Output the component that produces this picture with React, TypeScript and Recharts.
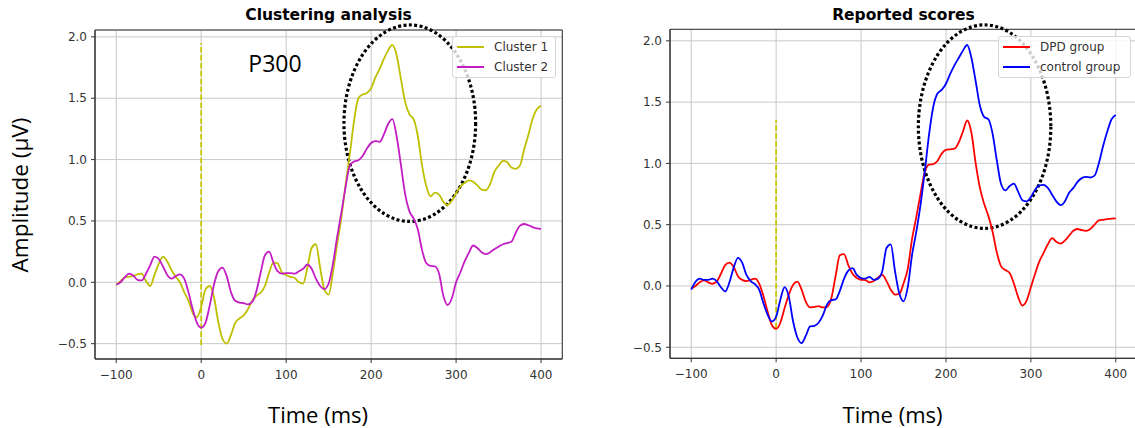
import { LineChart, Line, XAxis, YAxis, CartesianGrid, ReferenceLine, ReferenceArea, Legend } from 'recharts';

// time axis (ms), one sample every 5 ms
const times = [
  -100, -95, -90, -85, -80, -75, -70, -65, -60, -55,
  -50, -45, -40, -35, -30, -25, -20, -15, -10, -5,
  0, 5, 10, 15, 20, 25, 30, 35, 40, 45,
  50, 55, 60, 65, 70, 75, 80, 85, 90, 95,
  100, 105, 110, 115, 120, 125, 130, 135, 140, 145,
  150, 155, 160, 165, 170, 175, 180, 185, 190, 195,
  200, 205, 210, 215, 220, 225, 230, 235, 240, 245,
  250, 255, 260, 265, 270, 275, 280, 285, 290, 295,
  300, 305, 310, 315, 320, 325, 330, 335, 340, 345,
  350, 355, 360, 365, 370, 375, 380, 385, 390, 395,
  400,
];

const cluster1 = [
  -0.02, 0.01, 0.04, 0.045, 0.05, 0.065, 0.07, 0.01, -0.03, 0.06,
  0.15, 0.21, 0.17, 0.1, 0.045, 0.0, -0.08, -0.15, -0.25, -0.285,
  -0.2, -0.06, -0.03, -0.12, -0.32, -0.46, -0.5, -0.43, -0.33, -0.295,
  -0.27, -0.22, -0.15, -0.11, -0.085, -0.03, 0.08, 0.16, 0.155, 0.08,
  0.06, 0.045, 0.035, 0.0, -0.01, 0.12, 0.28, 0.31, 0.12, -0.06,
  -0.1, 0.08, 0.31, 0.53, 0.8, 1.05, 1.32, 1.5, 1.53, 1.543,
  1.58, 1.67, 1.74, 1.82, 1.89, 1.934, 1.85, 1.66, 1.47, 1.37,
  1.33, 1.19, 0.95, 0.78, 0.7, 0.73, 0.715, 0.655, 0.63, 0.665,
  0.725, 0.78, 0.81, 0.83, 0.82, 0.79, 0.756, 0.75, 0.8, 0.9,
  0.95, 0.99, 0.98, 0.935, 0.925, 0.95, 1.08, 1.2, 1.33, 1.41,
  1.437,
];

const cluster2 = [
  -0.02, 0.0, 0.04, 0.07, 0.055, 0.02, 0.015, 0.07, 0.14, 0.21,
  0.19, 0.13, 0.06, 0.03, 0.05, 0.065, 0.03, -0.08, -0.22, -0.33,
  -0.37, -0.33, -0.19, -0.02, 0.09, 0.12, 0.05, -0.08, -0.15, -0.165,
  -0.17, -0.18, -0.16, -0.07, 0.08, 0.22, 0.25, 0.16, 0.09, 0.07,
  0.075, 0.075, 0.07, 0.09, 0.11, 0.145, 0.11, 0.03, -0.03, -0.055,
  -0.01, 0.15, 0.37, 0.57, 0.78, 0.95, 0.985, 0.995, 1.03, 1.09,
  1.135, 1.15, 1.145, 1.205, 1.29, 1.33, 1.19, 0.96, 0.72, 0.58,
  0.52, 0.43, 0.26, 0.155, 0.133, 0.13, 0.07, -0.11, -0.185, -0.13,
  0.0, 0.08, 0.17, 0.24, 0.3, 0.28, 0.245, 0.23, 0.245, 0.27,
  0.29, 0.31, 0.32, 0.33, 0.4, 0.46, 0.475, 0.465, 0.45, 0.44,
  0.435,
];

const dpdGroup = [
  -0.02, 0.0, 0.03, 0.045, 0.03, 0.018, 0.035, 0.1, 0.17, 0.19,
  0.155, 0.08, 0.05, 0.04, 0.05, 0.06, 0.02, -0.08, -0.21, -0.32,
  -0.35, -0.3, -0.18, -0.07, 0.01, 0.035, -0.03, -0.13, -0.175, -0.17,
  -0.165, -0.175, -0.17, -0.1, 0.08, 0.25, 0.26, 0.17, 0.1, 0.065,
  0.05, 0.048, 0.03, 0.04, 0.07, 0.09, 0.04, -0.03, -0.07, -0.065,
  0.02, 0.14, 0.38, 0.56, 0.75, 0.93, 0.99, 0.995, 1.02, 1.08,
  1.11, 1.115, 1.12, 1.17, 1.26, 1.35, 1.25, 1.0, 0.8, 0.67,
  0.57, 0.44, 0.27, 0.16, 0.13, 0.105, 0.02, -0.09, -0.16, -0.12,
  -0.01, 0.1, 0.2, 0.27, 0.34, 0.39, 0.36, 0.345, 0.37, 0.41,
  0.45, 0.465, 0.455, 0.45, 0.465, 0.5, 0.535, 0.54, 0.545, 0.55,
  0.552,
];

const controlGroup = [
  -0.03, 0.035, 0.06, 0.05, 0.05, 0.06, 0.04, -0.01, -0.045, 0.03,
  0.15, 0.23, 0.19, 0.09, 0.04, 0.015, -0.03, -0.14, -0.235, -0.29,
  -0.25, -0.11, -0.01, -0.09, -0.29, -0.42, -0.465, -0.405, -0.33, -0.325,
  -0.3, -0.24, -0.15, -0.115, -0.11, -0.04, 0.06, 0.125, 0.145, 0.09,
  0.065, 0.06, 0.075, 0.05, 0.06, 0.12, 0.31, 0.34, 0.12, -0.06,
  -0.125, -0.01, 0.25, 0.44, 0.66, 0.93, 1.23, 1.46, 1.57, 1.6,
  1.65, 1.73, 1.8, 1.86, 1.92, 1.966, 1.86, 1.67, 1.47, 1.38,
  1.36, 1.24, 1.02, 0.83, 0.78, 0.815, 0.835, 0.77, 0.7, 0.69,
  0.725, 0.785, 0.82, 0.825, 0.8, 0.745, 0.69, 0.66, 0.69, 0.76,
  0.8, 0.85, 0.88, 0.89, 0.885, 0.9, 1.0, 1.14, 1.26, 1.36,
  1.395,
];

const xTicks = [-100, 0, 100, 200, 300, 400];
const yTicks = [-0.5, 0, 0.5, 1, 1.5, 2];
const xDomain: [number, number] = [-125, 425];

const leftRows = times.map((t, i) => ({ t, c1: cluster1[i], c2: cluster2[i] }));
const rightRows = times.map((t, i) => ({ t, dpd: dpdGroup[i], ctrl: controlGroup[i] }));

const fmtX = (v: number) => (v < 0 ? '\u2212' : '') + Math.abs(v);
const fmtY = (v: number) => (v < 0 ? '\u2212' : '') + Math.abs(v).toFixed(1);

const tickStyle = { fontSize: 12, fill: '#333', fontFamily: 'DejaVu Sans' };

const DottedEllipse = (p: any) => (
  <ellipse
    cx={p.x + p.width / 2}
    cy={p.y + p.height / 2}
    rx={Math.abs(p.width) / 2}
    ry={Math.abs(p.height) / 2}
    fill="none"
    stroke="#000"
    strokeWidth={3.2}
    strokeDasharray="3 2.4"
  />
);

const LegendBox = ({ payload, width }: any) => (
  <div
    style={{
      width,
      height: 42,
      boxSizing: 'border-box',
      background: 'rgba(255,255,255,0.8)',
      border: '1px solid #d6d6d6',
      borderRadius: 3,
      paddingLeft: 4,
      fontFamily: 'DejaVu Sans',
      fontSize: 12,
      color: '#333',
    }}
  >
    {(payload || []).map((item: any) => (
      <div key={item.value} style={{ height: 20, display: 'flex', alignItems: 'center' }}>
        <span style={{ width: 27, height: 2, background: item.color, display: 'inline-block' }} />
        <span style={{ marginLeft: 10, whiteSpace: 'nowrap' }}>{item.value}</span>
      </div>
    ))}
  </div>
);

interface PanelProps {
  data: any[];
  series: { key: string; name: string; color: string }[];
  yDomain: [number, number];
  top: number;
  bottom: number;
  right: number;
  marker: [number, number];
  ellipse: { x1: number; x2: number; y1: number; y2: number };
  legendLeft: number;
  legendWidth: number;
}

function Panel({ data, series, yDomain, top, bottom, right, marker, ellipse, legendLeft, legendWidth }: PanelProps) {
  return (
    <LineChart width={580} height={428} data={data} margin={{ top, right, bottom, left: 35 }}>
      <CartesianGrid stroke="#c8c8c8" strokeWidth={1} />
      <XAxis
        dataKey="t"
        type="number"
        domain={xDomain}
        ticks={xTicks}
        tickFormatter={fmtX}
        tick={tickStyle}
        tickSize={4}
        tickMargin={7}
        height={30}
        stroke="#333"
      />
      <YAxis
        type="number"
        domain={yDomain}
        ticks={yTicks}
        tickFormatter={fmtY}
        tick={tickStyle}
        tickSize={4}
        tickMargin={4}
        width={60}
        stroke="#333"
        allowDataOverflow
      />
      {/* axes frame */}
      <ReferenceArea
        x1={xDomain[0]}
        x2={xDomain[1]}
        y1={yDomain[0]}
        y2={yDomain[1]}
        ifOverflow="visible"
        fill="none"
        fillOpacity={0}
        stroke="#333"
        strokeWidth={1}
      />
      <ReferenceLine
        segment={[{ x: 0, y: marker[0] }, { x: 0, y: marker[1] }]}
        stroke="#c8c800"
        strokeWidth={1.8}
        strokeDasharray="5.5 2.4"
      />
      {series.map((s) => (
        <Line
          key={s.key}
          type="monotone"
          dataKey={s.key}
          name={s.name}
          stroke={s.color}
          strokeWidth={1.8}
          dot={false}
          isAnimationActive={false}
        />
      ))}
      <ReferenceArea
        x1={ellipse.x1}
        x2={ellipse.x2}
        y1={ellipse.y1}
        y2={ellipse.y2}
        ifOverflow="visible"
        shape={DottedEllipse}
      />
      <Legend
        layout="horizontal"
        verticalAlign="middle"
        align="center"
        wrapperStyle={{ left: legendLeft, top: 36, width: legendWidth, height: 42 }}
        content={(props: any) => <LegendBox payload={props.payload} width={legendWidth} />}
      />
    </LineChart>
  );
}

const textBase: React.CSSProperties = { position: 'absolute', whiteSpace: 'nowrap', color: '#000' };
const titleStyle: React.CSSProperties = {
  ...textBase,
  top: 8,
  transform: 'translateX(-50%)',
  fontFamily: 'DejaVu Sans',
  fontWeight: 'bold',
  fontSize: 15.5,
  lineHeight: '15.5px',
};
const axisLabelStyle: React.CSSProperties = { ...textBase, fontFamily: 'Open Sans', fontSize: 22, lineHeight: '22px' };

export default function App() {
  return (
    <div style={{ position: 'absolute', left: 0, top: 0, width: 1135, height: 428, overflow: 'hidden', background: '#fff' }}>
      <div style={{ position: 'absolute', left: 0, top: 0 }}>
        <Panel
          data={leftRows}
          series={[
            { key: 'c1', name: 'Cluster 1', color: '#bfbf00' },
            { key: 'c2', name: 'Cluster 2', color: '#c41cc4' },
          ]}
          yDomain={[-0.625, 2.056]}
          top={30}
          bottom={39}
          right={17.7}
          marker={[-0.51, 1.95]}
          ellipse={{ x1: 168, x2: 323, y1: 0.496, y2: 2.097 }}
          legendLeft={452}
          legendWidth={104}
        />
      </div>
      <div style={{ position: 'absolute', left: 575, top: 0 }}>
        <Panel
          data={rightRows}
          series={[
            { key: 'dpd', name: 'DPD group', color: '#ff0000' },
            { key: 'ctrl', name: 'control group', color: '#0000ff' },
          ]}
          yDomain={[-0.59, 2.094]}
          top={29.3}
          bottom={39.7}
          right={18}
          marker={[-0.345, 1.354]}
          ellipse={{ x1: 167.5, x2: 323.5, y1: 0.47, y2: 2.13 }}
          legendLeft={423}
          legendWidth={133}
        />
      </div>

      <div style={{ ...titleStyle, left: 328.5 }}>Clustering analysis</div>
      <div style={{ ...titleStyle, left: 903.5 }}>Reported scores</div>
      <div style={{ ...textBase, left: 275, top: 52, transform: 'translateX(-50%)', fontFamily: 'Open Sans', fontSize: 23, lineHeight: '23px' }}>
        P300
      </div>
      <div style={{ ...axisLabelStyle, left: 20, top: 195, fontSize: 22.5, transform: 'translate(-50%, -50%) rotate(-90deg)' }}>
        Amplitude (μV)
      </div>
      <div style={{ ...axisLabelStyle, left: 318, top: 403, transform: 'translateX(-50%)' }}>Time (ms)</div>
      <div style={{ ...axisLabelStyle, left: 892.5, top: 403, transform: 'translateX(-50%)' }}>Time (ms)</div>
    </div>
  );
}
